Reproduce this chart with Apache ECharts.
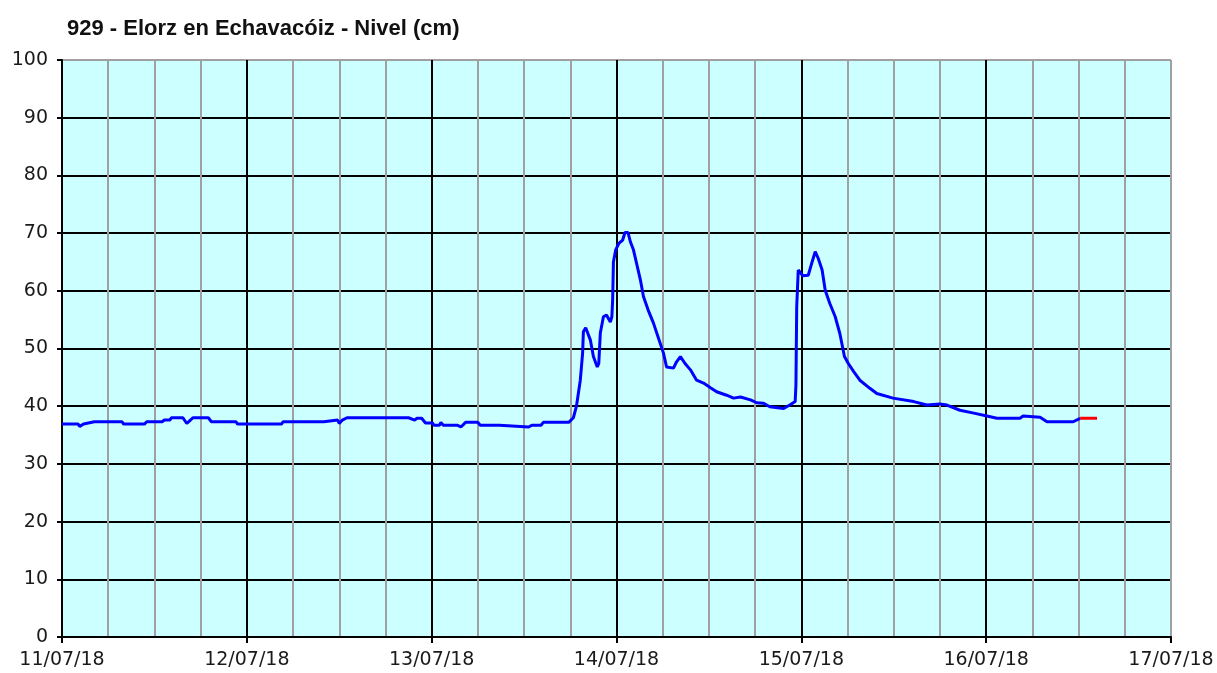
<!DOCTYPE html>
<html>
<head>
<meta charset="utf-8">
<title>929 - Elorz en Echavacóiz - Nivel (cm)</title>
<script src="https://cdn.jsdelivr.net/npm/echarts@6/dist/echarts.min.js"></script>
<style>
  html, body { margin: 0; padding: 0; background: #fff; }
  #chart { width: 1217px; height: 673px; }
</style>
</head>
<body>
<div id="chart"></div>
<script>
// horas desde 11/07/18 00:00
const dias = ['11/07/18', '12/07/18', '13/07/18', '14/07/18', '15/07/18', '16/07/18', '17/07/18']

const horas = [0, 2.1, 2.3, 2.8, 4.2, 7.8, 8.0, 10.7, 11.0, 13.0, 13.3, 14.0, 14.2, 15.7, 16.2, 16.6, 17.0, 19.0, 19.4, 22.6,
  22.8, 28.5, 28.7, 34.0, 34.2, 35.8, 36.0, 36.4, 37.0, 45.0, 45.8, 46.1, 46.7, 47.2, 48.1, 48.3, 49.0, 49.2, 49.5, 51.3,
  51.8, 52.4, 54.0, 54.3, 56.8, 57.0, 60.6, 61.0, 62.2, 62.5, 65.8, 66.4, 66.8, 67.3, 67.6, 67.7, 68.0, 68.6, 69.0, 69.5,
  69.7, 69.9, 70.3, 70.7, 71.2, 71.4, 71.5, 71.6, 71.9, 72.3, 72.8, 73.1, 73.5, 73.8, 74.2, 74.6, 75.1, 75.5, 76.1, 76.8,
  77.4, 78.1, 78.5, 79.4, 79.8, 80.3, 80.9, 81.6, 82.4, 83.3, 84.2, 85.0, 86.3, 87.2, 88.1, 89.4, 90.2, 91.1, 91.9, 93.7,
  94.5, 95.2, 95.3, 95.4, 95.6, 95.8, 96.2, 96.9, 97.4, 97.8, 98.2, 98.7, 99.1, 99.7, 100.4, 101.0, 101.6, 102.1, 102.8, 103.6,
  104.9, 105.8, 107.9, 110.6, 112.3, 114.0, 114.9, 116.6, 118.4, 120.1, 121.4, 124.4, 124.8, 127.0, 127.9, 131.3, 132.2]

const nivel = [36.9, 36.9, 36.5, 36.9, 37.3, 37.3, 36.9, 36.9, 37.3, 37.3, 37.6, 37.6, 38.0, 38.0, 37.0, 37.5, 38.0, 38.0, 37.3, 37.3,
  36.9, 36.9, 37.3, 37.3, 37.6, 37.6, 37.0, 37.6, 38.0, 38.0, 37.6, 37.9, 37.9, 37.1, 37.1, 36.7, 36.7, 37.2, 36.7, 36.7,
  36.4, 37.2, 37.2, 36.7, 36.7, 36.4, 36.4, 36.7, 36.7, 37.2, 37.2, 38.0, 40.0, 44.5, 49.2, 52.9, 53.6, 51.5, 48.6, 46.8,
  47.4, 52.7, 55.5, 55.8, 54.6, 55.5, 58.4, 65.0, 67.1, 68.2, 68.8, 70.1, 70.1, 68.5, 67.1, 64.8, 61.9, 59.0, 56.7, 54.4,
  52.0, 49.2, 46.8, 46.6, 47.7, 48.6, 47.4, 46.3, 44.5, 44.0, 43.2, 42.5, 41.9, 41.4, 41.6, 41.1, 40.6, 40.5, 39.9, 39.6,
  40.2, 40.8, 43.7, 57.2, 63.6, 63.6, 62.6, 62.7, 65.0, 66.8, 65.6, 63.6, 60.1, 57.8, 55.5, 52.6, 48.6, 47.4, 46.0, 44.5,
  43.1, 42.2, 41.4, 40.8, 40.2, 40.4, 40.2, 39.3, 38.8, 38.3, 37.9, 37.9, 38.3, 38.1, 37.3, 37.3, 37.9]

// tramo en rojo al final
const horasRojo = [132.2, 134.4]
const nivelRojo = [37.9, 37.9]

const fuente = 'DejaVu Sans'
const negro = '#000000'
const gris = '#a0a0a0'

const chart = echarts.init(document.getElementById('chart'))
chart.setOption({
  animation: false,
  title: {
    text: '929 - Elorz en Echavacóiz - Nivel (cm)',
    left: 62,
    top: 13,
    textStyle: {fontFamily: 'Liberation Sans', fontWeight: 'bold', fontSize: 22, color: '#111'}
  },
  grid: {
    left: 62, right: 46, top: 60, bottom: 36,
    show: true, backgroundColor: '#ccffff', borderWidth: 0
  },
  xAxis: {
    type: 'value',
    min: 0,
    max: 144,
    interval: 24,
    axisLine: {lineStyle: {color: negro, width: 2}},
    axisTick: {show: true, length: 6, lineStyle: {color: negro, width: 2}},
    axisLabel: {
      margin: 14,
      fontFamily: fuente, fontSize: 19, color: '#1a1a1a',
      formatter: v => dias[Math.round(v / 24)]
    },
    splitLine: {show: true, lineStyle: {color: [negro, negro, negro, negro, negro, negro, gris], width: 2}},
    minorTick: {show: false, splitNumber: 4},
    minorSplitLine: {show: true, lineStyle: {color: gris, width: 2}}
  },
  yAxis: {
    type: 'value',
    min: 0,
    max: 100,
    interval: 10,
    axisLine: {show: true, lineStyle: {color: negro, width: 2}},
    axisTick: {show: true, length: 5, lineStyle: {color: negro, width: 2}},
    axisLabel: {margin: 14, fontFamily: fuente, fontSize: 19, color: '#1a1a1a'},
    splitLine: {
      show: true,
      lineStyle: {color: [negro, negro, negro, negro, negro, negro, negro, negro, negro, negro, gris], width: 2}
    }
  },
  series: [
    {
      type: 'line',
      showSymbol: false,
      data: horas.map((h, i) => [h, nivel[i]]),
      lineStyle: {color: '#0000ff', width: 3},
      itemStyle: {color: '#0000ff'}
    },
    {
      type: 'line',
      showSymbol: false,
      data: horasRojo.map((h, i) => [h, nivelRojo[i]]),
      lineStyle: {color: '#ff0000', width: 3},
      itemStyle: {color: '#ff0000'}
    }
  ]
})
</script>
</body>
</html>
